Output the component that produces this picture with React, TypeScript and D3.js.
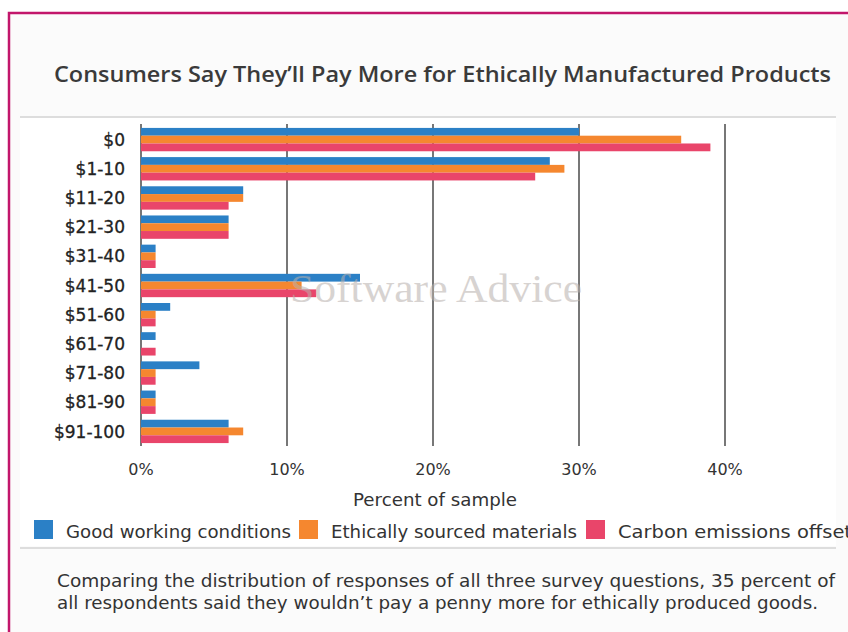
import * as d3 from "d3";

// Gráfico de barras horizontales agrupadas: cuánto más pagarían los consumidores.

const CATEGORIES = ["$0", "$1-10", "$11-20", "$21-30", "$31-40", "$41-50", "$51-60", "$61-70", "$71-80", "$81-90", "$91-100"];
const GOOD_WORKING = [30, 28, 7, 6, 1, 15, 2, 1, 4, 1, 6];
const ETHICAL_MATERIALS = [37, 29, 7, 6, 1, 11, 1, 0, 1, 1, 7];
const CARBON_OFFSET = [39, 27, 6, 6, 1, 12, 1, 1, 1, 1, 6];
const SERIES_NAMES = ["Good working conditions", "Ethically sourced materials", "Carbon emissions offset"];
const X_TICKS = [0, 10, 20, 30, 40];

const COLORS = ["#2b80c6", "#f5872f", "#e9456a"];
const W = 848;
const H = 632;
const PLOT = { left: 141, right: 725, top: 124, bottom: 446 };
const FONT = "DejaVu Sans, Verdana, sans-serif";

// posiciones de la leyenda: [cuadro x, ancho del texto]
const LEGEND_POS = [
  [34, 225],
  [299, 246],
  [586, 234],
];

export default function App() {
  const series = [GOOD_WORKING, ETHICAL_MATERIALS, CARBON_OFFSET];

  const x = d3.scaleLinear().domain([0, 40]).range([PLOT.left, PLOT.right]);
  const y = d3
    .scaleBand<string>()
    .domain(CATEGORIES)
    .range([PLOT.top + 1, PLOT.bottom])
    .paddingInner(0.2)
    .paddingOuter(0.1);
  const inner = d3
    .scaleBand<number>()
    .domain(d3.range(series.length))
    .range([0, y.bandwidth()]);

  return (
    <svg
      width={W}
      height={H}
      style={{ position: "absolute", left: 0, top: 0, background: "#fff" }}
      fontFamily={FONT}
    >
      {/* marco */}
      <rect x={9} y={13} width={W} height={H} fill="#fbfbfb" stroke="#c2166b" strokeWidth={2.5} />

      <text
        x={54}
        y={82}
        fontSize={21}
        fontWeight={600}
        fill="#3a3a3a"
        fontFamily="Open Sans, sans-serif"
        textLength={777}
        lengthAdjust="spacingAndGlyphs"
      >
        Consumers Say They’ll Pay More for Ethically Manufactured Products
      </text>

      <line x1={20} x2={836} y1={117} y2={117} stroke="#ddd" strokeWidth={2} />
      <rect x={20} y={118} width={816} height={428} fill="#fff" />

      {/* rejilla vertical */}
      {X_TICKS.map((t) => (
        <line key={t} x1={x(t)} x2={x(t)} y1={PLOT.top} y2={PLOT.bottom} stroke="#555" strokeWidth={1.6} />
      ))}

      {/* barras */}
      {CATEGORIES.map((c, i) => (
        <g key={c} transform={`translate(0,${y(c)})`}>
          {series.map((s, k) => (
            <rect
              key={k}
              x={x(0)}
              y={inner(k)}
              width={x(s[i]) - x(0)}
              height={inner.bandwidth()}
              fill={COLORS[k]}
            />
          ))}
        </g>
      ))}

      {/* marca de agua */}
      <text
        x={290}
        y={302}
        fontSize={40}
        fill="#b8b0ac"
        opacity={0.55}
        fontFamily="Liberation Serif, serif"
        textLength={292}
        lengthAdjust="spacingAndGlyphs"
      >
        Software Advice
      </text>

      {/* eje Y */}
      {CATEGORIES.map((c) => (
        <text
          key={c}
          x={125}
          y={(y(c) ?? 0) + y.bandwidth() / 2}
          dy="0.36em"
          textAnchor="end"
          fontSize={17}
          fill="#222"
          stroke="#222"
          strokeWidth={0.3}
        >
          {c}
        </text>
      ))}

      {/* eje X */}
      {X_TICKS.map((t) => (
        <text key={t} x={x(t)} y={475} textAnchor="middle" fontSize={16} fill="#333">
          {`${t}%`}
        </text>
      ))}
      <text x={353} y={506} fontSize={18} fill="#333" textLength={164} lengthAdjust="spacingAndGlyphs">
        Percent of sample
      </text>

      {/* leyenda */}
      {SERIES_NAMES.map((name, k) => {
        const [lx, tw] = LEGEND_POS[k];
        return (
          <g key={name}>
            <rect x={lx} y={520} width={19} height={19} fill={COLORS[k]} />
            <text x={lx + 32} y={538} fontSize={18} fill="#333" textLength={tw} lengthAdjust="spacingAndGlyphs">
              {name}
            </text>
          </g>
        );
      })}
      <line x1={20} x2={836} y1={548} y2={548} stroke="#ddd" strokeWidth={2} />

      {/* nota */}
      <text x={57} y={587} fontSize={17.5} fill="#333" textLength={778} lengthAdjust="spacingAndGlyphs">
        Comparing the distribution of responses of all three survey questions, 35 percent of
      </text>
      <text x={57} y={609} fontSize={17.5} fill="#333" textLength={761} lengthAdjust="spacingAndGlyphs">
        all respondents said they wouldn’t pay a penny more for ethically produced goods.
      </text>
    </svg>
  );
}
